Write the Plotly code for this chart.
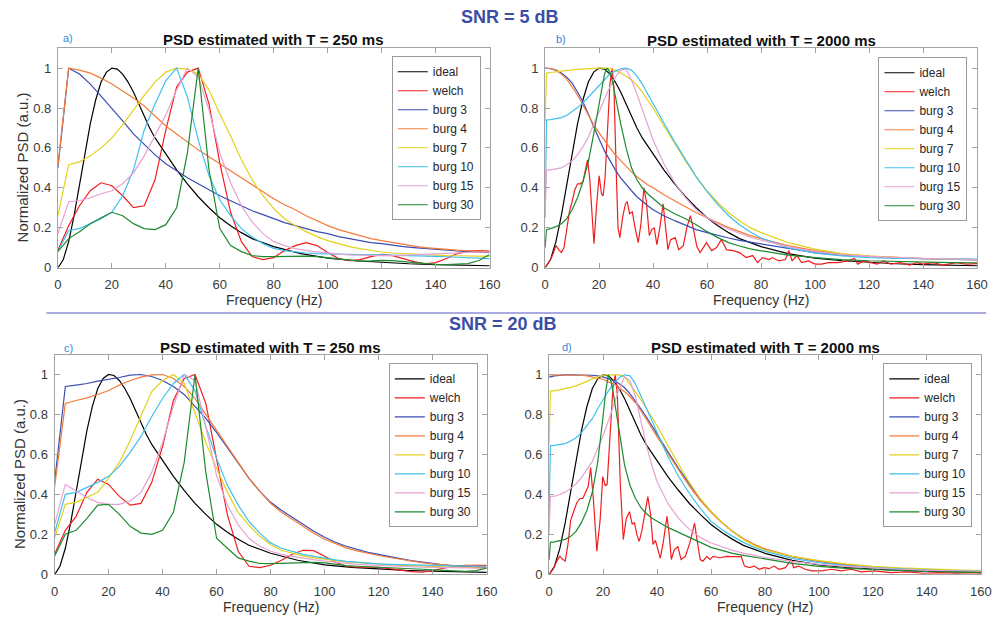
import plotly.graph_objects as go

# ---------------- data ----------------
NAMES = ["ideal", "welch", "burg 3", "burg 4", "burg 7", "burg 10", "burg 15", "burg 30"]
COLORS = ["#000000", "#f21d1d", "#3b4db3", "#f47b38", "#e3d11c", "#3fc0ee", "#e6a2d3", "#1d8a2e"]

# frequency grid of the T = 250 ms estimates (4 Hz bins)
F250 = list(range(0, 161, 4))
# grid for smooth curves of the T = 2000 ms estimates and the ideal PSD
FLONG = [0, 0.5, 2, 4, 6, 8, 10, 12, 14, 16, 18, 20, 22, 24, 26, 28, 30, 32, 34, 36, 38, 40,
         44, 48, 52, 56, 60, 64, 68, 72, 76, 80, 90, 100, 110, 120, 130, 140, 150, 160]
FPEAK = [0, 0.5, 2, 4, 6, 8, 10, 12, 14, 16, 18, 20, 21, 22, 23, 24, 25, 26, 28, 30, 32, 34, 36, 38, 40,
         44, 48, 52, 56, 60, 64, 68, 72, 76, 80, 90, 100, 110, 120, 130, 140, 150, 160]

IDEAL = [0, 0.008, 0.04, 0.13, 0.26, 0.41, 0.56, 0.72, 0.84, 0.93, 0.98, 1.0, 0.995, 0.97, 0.93, 0.88,
         0.82, 0.76, 0.70, 0.65, 0.61, 0.57,
         0.49, 0.42, 0.355, 0.30, 0.25, 0.21, 0.175, 0.145, 0.125, 0.105,
         0.07, 0.047, 0.034, 0.025, 0.019, 0.015, 0.011, 0.009]

# ---- SNR = 5 dB, T = 250 ms (panel a)
WELCH_A = [0.087, 0.21, 0.31, 0.385, 0.425, 0.41, 0.36, 0.3, 0.31, 0.44,
           0.69, 0.905, 0.98, 1.0, 0.82, 0.525, 0.277, 0.13, 0.055, 0.04,
           0.05, 0.085, 0.11, 0.125, 0.11, 0.075, 0.045, 0.035, 0.04, 0.055,
           0.066, 0.06, 0.045, 0.03, 0.019, 0.025, 0.045, 0.07, 0.082, 0.085, 0.082]
BURG3_A = [0.5, 1.0, 0.97, 0.92, 0.86, 0.80, 0.735, 0.67, 0.615, 0.565,
           0.52, 0.485, 0.45, 0.42, 0.39, 0.36, 0.335, 0.31, 0.285, 0.265,
           0.245, 0.225, 0.21, 0.195, 0.18, 0.17, 0.155, 0.145, 0.135, 0.125,
           0.12, 0.112, 0.105, 0.1, 0.095, 0.09, 0.086, 0.083, 0.08, 0.078, 0.076]
BURG4_A = [0.51, 1.0, 0.99, 0.975, 0.95, 0.92, 0.885, 0.85, 0.81, 0.76,
           0.71, 0.67, 0.63, 0.59, 0.555, 0.52, 0.485, 0.45, 0.415, 0.38,
           0.345, 0.315, 0.29, 0.26, 0.235, 0.21, 0.19, 0.175, 0.16, 0.145,
           0.135, 0.125, 0.115, 0.107, 0.1, 0.095, 0.09, 0.087, 0.084, 0.082, 0.08]
BURG7_A = [0.26, 0.516, 0.53, 0.56, 0.6, 0.65, 0.715, 0.79, 0.863, 0.93,
           0.98, 1.0, 0.995, 0.97, 0.89, 0.77, 0.66, 0.54, 0.44, 0.36,
           0.295, 0.245, 0.21, 0.18, 0.155, 0.135, 0.12, 0.105, 0.095, 0.085,
           0.078, 0.073, 0.07, 0.067, 0.064, 0.062, 0.06, 0.059, 0.058, 0.057, 0.056]
BURG10_A = [0.08, 0.186, 0.195, 0.22, 0.245, 0.277, 0.36, 0.49, 0.69, 0.82,
            0.937, 1.0, 0.855, 0.64, 0.46, 0.34, 0.26, 0.195, 0.153, 0.12,
            0.096, 0.085, 0.078, 0.073, 0.07, 0.068, 0.067, 0.066, 0.065, 0.065,
            0.064, 0.063, 0.062, 0.06, 0.058, 0.056, 0.054, 0.052, 0.05, 0.047, 0.045]
BURG15_A = [0.17, 0.33, 0.335, 0.35, 0.37, 0.385, 0.42, 0.475, 0.56, 0.66,
            0.765, 0.89, 1.0, 0.955, 0.79, 0.575, 0.425, 0.31, 0.228, 0.17,
            0.13, 0.11, 0.095, 0.085, 0.078, 0.072, 0.067, 0.064, 0.062, 0.061,
            0.06, 0.06, 0.061, 0.063, 0.066, 0.069, 0.072, 0.075, 0.077, 0.078, 0.078]
BURG30_A = [0.08, 0.145, 0.18, 0.22, 0.25, 0.277, 0.26, 0.22, 0.195, 0.19,
            0.215, 0.3, 0.575, 1.0, 0.49, 0.195, 0.11, 0.08, 0.06, 0.055,
            0.055, 0.056, 0.057, 0.057, 0.055, 0.05, 0.044, 0.037, 0.032, 0.033,
            0.036, 0.035, 0.03, 0.024, 0.019, 0.016, 0.015, 0.016, 0.02, 0.035, 0.065]

# ---- SNR = 5 dB, T = 2000 ms (panel b)
WELCH_B_F = [0, 1, 2, 3, 4, 5, 6, 7, 8, 9,
             10, 11, 12, 13, 14, 15, 15.7, 16.5, 17.3, 18.1,
             19, 20, 20.9, 21.5, 22.2, 23, 24, 24.8, 25.5, 26.3,
             27, 27.7, 28.8, 29.8, 30.4, 31.3, 32.3, 33.3, 34.5, 35.5,
             36.6, 37.5, 38.6, 39.5, 40.4, 41.4, 42.5, 43.7, 44.6, 45.5,
             46.5, 48.2, 49.5, 51.2, 52.5, 53.8, 55, 56.2, 57.4, 59.8,
             61.7, 63.5, 65.3, 67.2, 69.6, 72, 74.5, 76.9, 78.7, 80.5,
             83, 84.2, 86.6, 89, 90.3, 91.5, 93.3, 95, 97.6, 100,
             102.4, 105, 108.5, 112, 114.6, 115.8, 118, 120.7, 123, 125.5,
             128, 131.6, 135, 137.7, 140, 143.8, 147.4, 152.3, 156, 160]
WELCH_B = [0, 0.02, 0.04, 0.07, 0.11, 0.09, 0.075, 0.1, 0.2, 0.28,
           0.33, 0.39, 0.42, 0.42, 0.43, 0.5, 0.54, 0.45, 0.28, 0.12,
           0.3, 0.46, 0.37, 0.36, 0.45, 0.68, 0.92, 1.0, 0.9, 0.5,
           0.2, 0.15, 0.26, 0.32, 0.33, 0.27, 0.28, 0.2, 0.125, 0.22,
           0.4, 0.33, 0.16, 0.19, 0.2, 0.115, 0.2, 0.32, 0.22, 0.09,
           0.14, 0.15, 0.09, 0.11, 0.2, 0.26, 0.19, 0.105, 0.075, 0.125,
           0.085, 0.1, 0.14, 0.09, 0.085, 0.075, 0.05, 0.06, 0.025, 0.05,
           0.04, 0.05, 0.033, 0.04, 0.085, 0.033, 0.06, 0.025, 0.033, 0.017,
           0.017, 0.025, 0.025, 0.033, 0.045, 0.017, 0.033, 0.025, 0.017, 0.033,
           0.017, 0.025, 0.012, 0.025, 0.017, 0.025, 0.012, 0.025, 0.017, 0.02]
BURG3_B = [1.0, 1.0, 0.997, 0.99, 0.975, 0.955, 0.925, 0.88, 0.83, 0.77, 0.705, 0.645, 0.585, 0.535,
           0.49, 0.45, 0.415, 0.385, 0.355, 0.33, 0.31, 0.29,
           0.26, 0.235, 0.212, 0.19, 0.175, 0.16, 0.148, 0.136, 0.127, 0.118,
           0.095, 0.075, 0.062, 0.055, 0.049, 0.045, 0.041, 0.038]
BURG4_B = [1.0, 1.0, 0.998, 0.99, 0.97, 0.945, 0.905, 0.865, 0.815, 0.765, 0.715, 0.675, 0.635, 0.6,
           0.565, 0.535, 0.505, 0.48, 0.455, 0.435, 0.415, 0.4,
           0.365, 0.335, 0.305, 0.275, 0.25, 0.225, 0.2, 0.18, 0.16, 0.145,
           0.11, 0.085, 0.068, 0.057, 0.05, 0.045, 0.042, 0.04]
BURG7_B = [0.73, 0.975, 0.978, 0.982, 0.985, 0.988, 0.991, 0.994, 0.996, 0.998, 0.999, 1.0, 1.0, 0.997,
           0.99, 0.975, 0.96, 0.94, 0.915, 0.88, 0.84, 0.8,
           0.71, 0.62, 0.535, 0.455, 0.385, 0.325, 0.275, 0.235, 0.2, 0.175,
           0.125, 0.092, 0.07, 0.057, 0.05, 0.045, 0.042, 0.04]
BURG10_B = [0.25, 0.74, 0.742, 0.746, 0.752, 0.762, 0.78, 0.802, 0.825, 0.855, 0.885, 0.915, 0.945, 0.97,
            0.985, 0.997, 1.0, 0.99, 0.96, 0.92, 0.87, 0.82,
            0.725, 0.63, 0.54, 0.455, 0.38, 0.315, 0.26, 0.215, 0.178, 0.148,
            0.1, 0.072, 0.058, 0.05, 0.046, 0.044, 0.043, 0.042]
BURG15_B = [0.25, 0.49, 0.49, 0.495, 0.5, 0.515, 0.535, 0.565, 0.605, 0.655, 0.715, 0.78, 0.845, 0.905,
            0.955, 0.99, 0.995, 0.94, 0.87, 0.79, 0.71, 0.64,
            0.52, 0.425, 0.35, 0.29, 0.25, 0.218, 0.192, 0.17, 0.152, 0.137,
            0.105, 0.08, 0.065, 0.056, 0.05, 0.046, 0.043, 0.04]
BURG30_B = [0.1, 0.19, 0.195, 0.205, 0.22, 0.245, 0.29, 0.35, 0.43, 0.53, 0.67, 0.82,
            0.9, 0.97, 1.0, 0.98, 0.93, 0.86,
            0.72, 0.6, 0.5, 0.44, 0.4, 0.37, 0.345,
            0.3, 0.27, 0.245, 0.215, 0.18, 0.15, 0.125, 0.108, 0.094, 0.084,
            0.062, 0.05, 0.04, 0.034, 0.03, 0.027, 0.025, 0.024]

# ---- SNR = 20 dB, T = 250 ms (panel c)
WELCH_C = [0.1, 0.22, 0.29, 0.41, 0.476, 0.45, 0.39, 0.346, 0.355, 0.46,
           0.64, 0.87, 0.98, 1.0, 0.855, 0.577, 0.297, 0.115, 0.04, 0.033,
           0.045, 0.07, 0.1, 0.12, 0.118, 0.09, 0.06, 0.04, 0.035, 0.035,
           0.034, 0.028, 0.02, 0.013, 0.01, 0.018, 0.03, 0.04, 0.045, 0.046, 0.045]
BURG3_C = [0.46, 0.94, 0.947, 0.955, 0.967, 0.975, 0.985, 0.997, 1.0, 0.99,
           0.97, 0.94, 0.9, 0.84, 0.78, 0.71, 0.635, 0.555, 0.48, 0.415,
           0.36, 0.32, 0.285, 0.25, 0.215, 0.185, 0.16, 0.14, 0.125, 0.11,
           0.1, 0.088, 0.078, 0.068, 0.06, 0.053, 0.047, 0.042, 0.038, 0.035, 0.032]
BURG4_C = [0.435, 0.855, 0.87, 0.883, 0.9, 0.92, 0.947, 0.97, 0.987, 0.998,
           1.0, 0.98, 0.94, 0.88, 0.8, 0.72, 0.64, 0.56, 0.48, 0.415,
           0.355, 0.31, 0.275, 0.24, 0.205, 0.175, 0.152, 0.132, 0.117, 0.104,
           0.094, 0.084, 0.075, 0.066, 0.058, 0.052, 0.047, 0.044, 0.042, 0.04, 0.04]
BURG7_C = [0.18, 0.35, 0.36, 0.385, 0.41, 0.48, 0.56, 0.67, 0.79, 0.915,
           0.97, 1.0, 0.955, 0.81, 0.66, 0.53, 0.41, 0.31, 0.245, 0.19,
           0.148, 0.12, 0.105, 0.092, 0.082, 0.075, 0.068, 0.062, 0.058, 0.054,
           0.05, 0.047, 0.045, 0.043, 0.041, 0.04, 0.038, 0.036, 0.034, 0.032, 0.03]
BURG10_C = [0.206, 0.4, 0.41, 0.433, 0.46, 0.49, 0.54, 0.61, 0.69, 0.79,
            0.88, 0.955, 1.0, 0.92, 0.74, 0.58, 0.445, 0.346, 0.264, 0.206,
            0.157, 0.13, 0.115, 0.1, 0.09, 0.08, 0.072, 0.065, 0.06, 0.056,
            0.052, 0.05, 0.048, 0.046, 0.045, 0.044, 0.043, 0.042, 0.041, 0.04, 0.04]
BURG15_C = [0.247, 0.45, 0.417, 0.384, 0.36, 0.35, 0.35, 0.367, 0.41, 0.51,
            0.66, 0.84, 1.0, 0.97, 0.74, 0.494, 0.346, 0.247, 0.18, 0.14,
            0.115, 0.1, 0.09, 0.08, 0.073, 0.066, 0.06, 0.055, 0.05, 0.047,
            0.044, 0.041, 0.039, 0.037, 0.035, 0.034, 0.033, 0.032, 0.031, 0.03, 0.03]
BURG30_C = [0.09, 0.2, 0.22, 0.28, 0.346, 0.35, 0.3, 0.24, 0.206, 0.2,
            0.22, 0.31, 0.56, 1.0, 0.51, 0.18, 0.13, 0.082, 0.066, 0.054,
            0.053, 0.055, 0.057, 0.06, 0.06, 0.057, 0.05, 0.043, 0.04, 0.038,
            0.036, 0.034, 0.031, 0.028, 0.025, 0.022, 0.019, 0.016, 0.015, 0.018, 0.03]

# ---- SNR = 20 dB, T = 2000 ms (panel d)
WELCH_D_F = [0, 1.5, 3, 4, 5, 6, 7, 8, 9, 10.3,
             11.5, 12.5, 13.5, 14.5, 15.4, 16.4, 17.7, 18.9, 19.9, 20.8,
             21.5, 22.5, 23.7, 24.5, 25.3, 26.4, 27.5, 28.6, 29.8, 30.8,
             31.6, 32.5, 33.4, 34.4, 35.4, 36.6, 37.6, 38.5, 39.4, 40.3,
             41.2, 42.3, 43.7, 44.5, 45.3, 46.3, 47.7, 48.9, 50.5, 52.2,
             53.9, 55, 56, 57, 58.4, 59.6, 60.8, 63.3, 65.7, 68.1,
             71.2, 72.4, 74.2, 76, 77.9, 79.7, 81.5, 83.3, 85.2, 87.6,
             89.7, 90.6, 92.5, 94.9, 97.3, 101, 104.6, 108.3, 112, 115.6,
             120.4, 126.5, 132.6, 138.7, 144.8, 150.9, 155.7, 160]
WELCH_D = [0, 0.025, 0.07, 0.09, 0.075, 0.066, 0.15, 0.27, 0.31, 0.36,
           0.38, 0.38, 0.41, 0.44, 0.535, 0.38, 0.116, 0.27, 0.49, 0.445,
           0.45, 0.66, 0.94, 1.0, 0.9, 0.45, 0.174, 0.28, 0.314, 0.25,
           0.26, 0.2, 0.165, 0.22, 0.3, 0.39, 0.3, 0.15, 0.17, 0.13,
           0.08, 0.16, 0.29, 0.2, 0.074, 0.12, 0.14, 0.074, 0.09, 0.16,
           0.256, 0.157, 0.074, 0.066, 0.09, 0.074, 0.09, 0.083, 0.09, 0.088,
           0.088, 0.041, 0.033, 0.041, 0.025, 0.033, 0.028, 0.041, 0.025, 0.033,
           0.074, 0.033, 0.041, 0.025, 0.017, 0.017, 0.025, 0.017, 0.025, 0.012,
           0.017, 0.008, 0.012, 0.005, 0.008, 0.005, 0.008, 0.005]
BURG3_D = [0.99, 0.99, 0.995, 0.998, 1.0, 1.0, 1.0, 1.0, 1.0, 0.998, 0.995, 0.99, 0.98, 0.97,
           0.955, 0.935, 0.905, 0.87, 0.83, 0.79, 0.745, 0.7,
           0.615, 0.53, 0.45, 0.375, 0.315, 0.26, 0.215, 0.178, 0.148, 0.125,
           0.088, 0.064, 0.046, 0.034, 0.026, 0.02, 0.016, 0.013]
BURG4_D = [1.0, 1.0, 1.0, 1.0, 1.0, 1.0, 1.0, 0.998, 0.995, 0.99, 0.985, 0.978, 0.965, 0.955,
           0.935, 0.915, 0.89, 0.86, 0.82, 0.78, 0.735, 0.69,
           0.605, 0.52, 0.44, 0.37, 0.31, 0.258, 0.214, 0.178, 0.15, 0.127,
           0.09, 0.066, 0.048, 0.036, 0.028, 0.022, 0.018, 0.015]
BURG7_D = [0.65, 0.92, 0.92, 0.925, 0.93, 0.937, 0.945, 0.955, 0.967, 0.98, 0.99, 0.997, 1.0, 1.0,
           1.0, 0.99, 0.955, 0.915, 0.875, 0.835, 0.79, 0.745,
           0.645, 0.55, 0.46, 0.38, 0.315, 0.26, 0.213, 0.175, 0.145, 0.122,
           0.09, 0.068, 0.052, 0.04, 0.032, 0.026, 0.022, 0.019]
BURG10_D = [0.3, 0.645, 0.646, 0.65, 0.655, 0.668, 0.685, 0.71, 0.745, 0.78, 0.83, 0.876, 0.92, 0.957,
            0.985, 1.0, 0.995, 0.955, 0.895, 0.835, 0.77, 0.71,
            0.59, 0.49, 0.405, 0.33, 0.265, 0.225, 0.19, 0.16, 0.135, 0.115,
            0.08, 0.058, 0.043, 0.033, 0.026, 0.021, 0.017, 0.015]
BURG15_D = [0.2, 0.39, 0.392, 0.4, 0.413, 0.43, 0.453, 0.485, 0.525, 0.565, 0.63, 0.695, 0.77, 0.85,
            0.93, 0.99, 0.97, 0.89, 0.77, 0.65, 0.55, 0.465,
            0.355, 0.28, 0.225, 0.185, 0.157, 0.138, 0.12, 0.106, 0.094, 0.084,
            0.065, 0.05, 0.04, 0.031, 0.025, 0.02, 0.017, 0.015]
BURG30_D = [0.07, 0.16, 0.162, 0.168, 0.175, 0.19, 0.215, 0.26, 0.32, 0.41, 0.56, 0.79,
            0.92, 1.0, 0.965, 0.89, 0.8, 0.72,
            0.545, 0.445, 0.38, 0.335, 0.305, 0.282, 0.265,
            0.235, 0.21, 0.185, 0.16, 0.135, 0.12, 0.105, 0.095, 0.085, 0.077,
            0.055, 0.04, 0.03, 0.024, 0.018, 0.014, 0.012, 0.01]

PANEL_TITLES = ["PSD estimated with T = 250 ms", "PSD estimated with T = 2000 ms",
                "PSD estimated with T = 250 ms", "PSD estimated with T = 2000 ms"]
PANEL_LETTERS = ["a)", "b)", "c)", "d)"]
SNR_TITLES = ["SNR = 5 dB", "SNR = 20 dB"]
X_TICKS = [0, 20, 40, 60, 80, 100, 120, 140, 160]
Y_TICKS = [0, 0.2, 0.4, 0.6, 0.8, 1]
Y_TICK_TEXT = ["0", "0.2", "0.4", "0.6", "0.8", "1"]

SERIES = [
    [(FLONG, IDEAL), (F250, WELCH_A), (F250, BURG3_A), (F250, BURG4_A), (F250, BURG7_A),
     (F250, BURG10_A), (F250, BURG15_A), (F250, BURG30_A)],
    [(FLONG, IDEAL), (WELCH_B_F, WELCH_B), (FLONG, BURG3_B), (FLONG, BURG4_B), (FLONG, BURG7_B),
     (FLONG, BURG10_B), (FLONG, BURG15_B), (FPEAK, BURG30_B)],
    [(FLONG, IDEAL), (F250, WELCH_C), (F250, BURG3_C), (F250, BURG4_C), (F250, BURG7_C),
     (F250, BURG10_C), (F250, BURG15_C), (F250, BURG30_C)],
    [(FLONG, IDEAL), (WELCH_D_F, WELCH_D), (FLONG, BURG3_D), (FLONG, BURG4_D), (FLONG, BURG7_D),
     (FLONG, BURG10_D), (FLONG, BURG15_D), (FPEAK, BURG30_D)],
]

# ---------------- layout (pixel geometry) ----------------
W, H = 1008, 626
FONT = "Liberation Sans, Arial, Helvetica, sans-serif"


def fx(p):
    return p / W


def fy(p):
    return 1 - p / H


# plot-area boxes in pixels: left, right, top, bottom
BOXES = [(54.7, 493.0, 48.8, 271.0), (549.3, 987.7, 48.8, 271.0),
         (51.3, 490.0, 359.1, 581.7), (553.3, 991.7, 359.5, 581.7)]
LEGEND_POS = [(484, 57), (978, 58), (481, 368), (983, 368)]
TITLE_Y = [40, 41, 352, 352]
LETTER_POS = [(65, 38), (565, 40), (65, 352), (572, 351)]

fig = go.Figure()
layout = dict(width=W, height=H, margin=dict(l=0, r=0, t=0, b=0),
              paper_bgcolor="white", plot_bgcolor="white",
              font=dict(family=FONT, color="#262626"), showlegend=True)
annotations = []

for i, (box, series) in enumerate(zip(BOXES, SERIES)):
    sfx = "" if i == 0 else str(i + 1)
    leg = "legend" if i == 0 else "legend%d" % (i + 1)
    for name, color, (xs, ys) in zip(NAMES, COLORS, series):
        fig.add_trace(go.Scatter(x=xs, y=ys, mode="lines", name=name,
                                 line=dict(color=color, width=1.2),
                                 xaxis="x" + sfx, yaxis="y" + sfx, legend=leg))
    l, r, t, b = box
    common = dict(showline=True, linecolor="#a3a3a3", linewidth=1, mirror="ticks",
                  ticks="inside", ticklen=5, tickcolor="#a3a3a3", showgrid=False,
                  zeroline=False, tickfont=dict(size=13, color="#3a3a3a", family=FONT))
    layout["xaxis" + sfx] = dict(domain=[fx(l), fx(r)], range=[0, 160], tickvals=X_TICKS,
                                 anchor="y" + sfx, ticklabelstandoff=5, **common)
    layout["yaxis" + sfx] = dict(domain=[fy(b), fy(t)], range=[0, 1.1], tickvals=Y_TICKS,
                                 ticktext=Y_TICK_TEXT, anchor="x" + sfx, ticklabelstandoff=3,
                                 **common)
    lx, ly = LEGEND_POS[i]
    layout[leg] = dict(x=fx(lx), y=fy(ly), xanchor="right", yanchor="top",
                       bgcolor="white", bordercolor="#9a9a9a", borderwidth=1,
                       font=dict(size=12, color="#262626", family=FONT), tracegroupgap=0)
    cx = (l + r) / 2
    annotations.append(dict(x=fx(cx), y=fy(TITLE_Y[i]), xref="paper", yref="paper",
                            text="<b>%s</b>" % PANEL_TITLES[i], showarrow=False,
                            font=dict(size=15, color="#111111"), xanchor="center", yanchor="middle"))
    px_, py_ = LETTER_POS[i]
    annotations.append(dict(x=fx(px_), y=fy(py_), xref="paper", yref="paper",
                            text=PANEL_LETTERS[i], showarrow=False,
                            font=dict(size=11, color="#2f8ad6"), xanchor="center", yanchor="middle"))
    annotations.append(dict(x=fx(cx), y=fy(b + 33), xref="paper", yref="paper",
                            text="Frequency (Hz)", showarrow=False,
                            font=dict(size=14, color="#333333"), xanchor="center", yanchor="middle"))
    if i in (0, 2):
        annotations.append(dict(x=fx(19 if i == 0 else 15), y=fy((t + b) / 2 + 10), xref="paper",
                                yref="paper", text="Normalized PSD (a.u.)", showarrow=False,
                                textangle=-90, font=dict(size=15, color="#333333"),
                                xanchor="center", yanchor="middle"))

annotations.append(dict(x=fx(514), y=fy(17), xref="paper", yref="paper",
                        text="<b>%s</b>" % SNR_TITLES[0], showarrow=False,
                        font=dict(size=18, color="#3b4ea6"), xanchor="center", yanchor="middle"))
annotations.append(dict(x=fx(507), y=fy(328), xref="paper", yref="paper",
                        text="<b>%s</b>" % SNR_TITLES[1], showarrow=False,
                        font=dict(size=18, color="#3b4ea6"), xanchor="center", yanchor="middle"))
layout["annotations"] = annotations
layout["shapes"] = [dict(type="line", xref="paper", yref="paper",
                         x0=fx(43), x1=fx(997), y0=fy(317), y1=fy(317),
                         line=dict(color="#8e8ed6", width=1.5))]

fig.update_layout(**layout)
fig.write_html("out.html")
